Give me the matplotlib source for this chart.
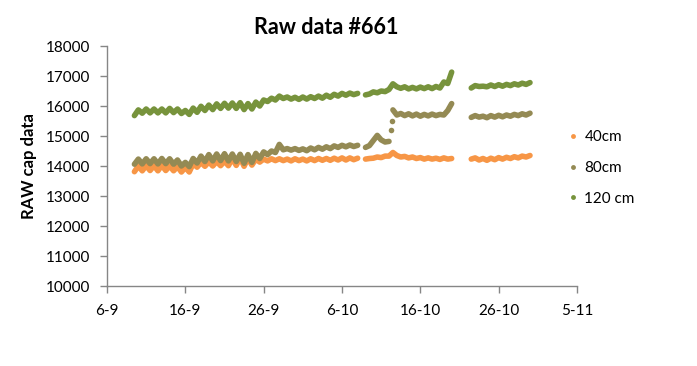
import matplotlib
matplotlib.use("Agg")
import matplotlib.pyplot as plt
import numpy as np
from matplotlib.lines import Line2D

plt.rcParams['font.family'] = ['Lato', 'DejaVu Sans']

# ---- data (x = days since 6 Sep, half-day samples) ----
step = 0.5
seg1_start = 3.5
seg2_start = 33.0
seg3_start = 46.5
brown_seg2b_start = 36.5

green_seg1 = [15680,
              15870, 15760, 15900, 15770, 15900, 15770, 15900, 15770,
              15920, 15780, 15900, 15750, 15850, 15720, 15930, 15790,
              15990, 15850, 16030, 15880, 16070, 15920, 16090, 15930,
              16100, 15920, 16110, 15880, 16080, 15900, 16130, 16000,
              16200, 16150, 16260, 16200, 16330, 16250, 16300, 16230,
              16290, 16220, 16300, 16230, 16310, 16250, 16330, 16260,
              16360, 16290, 16390, 16330, 16420, 16360, 16430, 16380,
              16420]
brown_seg1 = [14060,
              14230, 14070, 14240, 14080, 14240, 14070, 14250, 14080,
              14240, 14060, 14200, 14000, 14120, 13980, 14250, 14100,
              14330, 14150, 14380, 14170, 14400, 14180, 14410, 14170,
              14400, 14150, 14390, 14090, 14380, 14120, 14420, 14250,
              14470, 14380, 14500, 14450, 14720, 14540, 14580, 14530,
              14580, 14520, 14570, 14510, 14600, 14540, 14620, 14560,
              14640, 14580, 14670, 14620, 14690, 14640, 14700, 14650,
              14690]
orange_seg1 = [13810,
               14000, 13840, 14010, 13850, 14010, 13840, 14020, 13850,
               14000, 13840, 13980, 13800, 13950, 13800, 14080, 13960,
               14120, 13990, 14140, 14000, 14150, 14010, 14160, 14010,
               14250, 14020, 14280, 13990, 14260, 14030, 14230, 14130,
               14230, 14170, 14240, 14180, 14240, 14180, 14230, 14170,
               14240, 14180, 14230, 14170, 14240, 14180, 14250, 14190,
               14250, 14190, 14260, 14200, 14270, 14200, 14270, 14210,
               14260]

green_seg2 = [16370, 16400, 16470, 16440, 16500, 16480, 16550, 16740,
              16640, 16590, 16640, 16570, 16620, 16570, 16630, 16580,
              16640, 16580, 16650, 16600, 16800, 16750, 17130]
brown_seg2a = [14620, 14680, 14850, 15020, 14870, 14800, 14820]
brown_jump_x = [36.2, 36.35]
brown_jump_y = [15200, 15500]
brown_seg2b = [15870, 15700, 15750, 15680, 15740, 15670, 15730, 15660,
               15720, 15670, 15730, 15680, 15720, 15700, 15850, 16080]
orange_seg2 = [14230, 14250, 14260, 14300, 14280, 14330, 14330, 14450,
               14350, 14300, 14320, 14270, 14300, 14250, 14280, 14230,
               14270, 14230, 14260, 14220, 14270, 14230, 14250]

green_seg3 = [16600, 16680, 16650, 16660, 16640, 16700, 16650, 16710,
              16660, 16720, 16680, 16740, 16700, 16760, 16720, 16780]
brown_seg3 = [15620, 15680, 15630, 15660, 15610, 15680, 15630, 15690,
              15640, 15700, 15660, 15720, 15680, 15740, 15700, 15760]
orange_seg3 = [14230, 14270, 14200, 14250, 14190, 14260, 14210, 14280,
               14230, 14290, 14250, 14310, 14270, 14330, 14300, 14350]

x_ticks = [0, 10, 20, 30, 40, 50, 60]
x_tick_labels = ['6-9', '16-9', '26-9', '6-10', '16-10', '26-10', '5-11']
y_ticks = [10000, 11000, 12000, 13000, 14000, 15000, 16000, 17000, 18000]
series_names = ['40cm', '80cm', '120 cm']
colors = ['#F79646', '#948A54', '#77933C']

# ---- figure ----
W, H = 697, 366
fig = plt.figure(figsize=(W / 100, H / 100), dpi=100)
ax = fig.add_axes([107 / W, 80 / H, 470 / W, 240 / H])

def xs(start, vals):
    return start + step * np.arange(len(vals))

lw = 4.0
kw = dict(lw=lw, solid_capstyle='round', solid_joinstyle='round')
segments = [
    (colors[0], [(seg1_start, orange_seg1), (seg2_start, orange_seg2), (seg3_start, orange_seg3)]),
    (colors[1], [(seg1_start, brown_seg1), (seg2_start, brown_seg2a),
                 (brown_seg2b_start, brown_seg2b), (seg3_start, brown_seg3)]),
    (colors[2], [(seg1_start, green_seg1), (seg2_start, green_seg2), (seg3_start, green_seg3)]),
]
for col, segs in segments:
    for st, vals in segs:
        ax.plot(xs(st, vals), vals, color=col, **kw)
    if col == colors[1]:
        ax.plot(brown_jump_x, brown_jump_y, 'o', color=col, ms=4, mew=0)

ax.set_xlim(0, 60)
ax.set_ylim(10000, 18000)
ax.set_xticks(x_ticks)
ax.set_xticklabels(x_tick_labels)
ax.set_yticks(y_ticks)
ax.set_yticklabels([str(v) for v in y_ticks])
for s in ['top', 'right']:
    ax.spines[s].set_visible(False)
for s in ['left', 'bottom']:
    ax.spines[s].set_color('#868686')
    ax.spines[s].set_linewidth(1.0)
ax.tick_params(axis='both', direction='out', length=5, width=1.0, color='#868686',
               labelsize=11, labelcolor='black')
ax.tick_params(axis='y', pad=7)
ax.tick_params(axis='x', pad=8)

fig.text(326 / W, 1 - 27 / H, 'Raw data #661', ha='center', va='center',
         fontsize=15.5, fontweight='bold')
fig.text(29 / W, 1 - 166 / H, 'RAW cap data', ha='center', va='center',
         rotation=90, fontsize=12, fontweight='bold')

handles = [Line2D([], [], ls='none', marker='o', ms=3.5, mew=0, color=c) for c in colors]
fig.legend(handles, series_names, loc='center left', bbox_to_anchor=(560 / W, 1 - 168 / H),
           frameon=False, fontsize=11, handlelength=0.7, handletextpad=0.4,
           labelspacing=1.1, borderpad=0)

fig.savefig('out.png', dpi=100)
